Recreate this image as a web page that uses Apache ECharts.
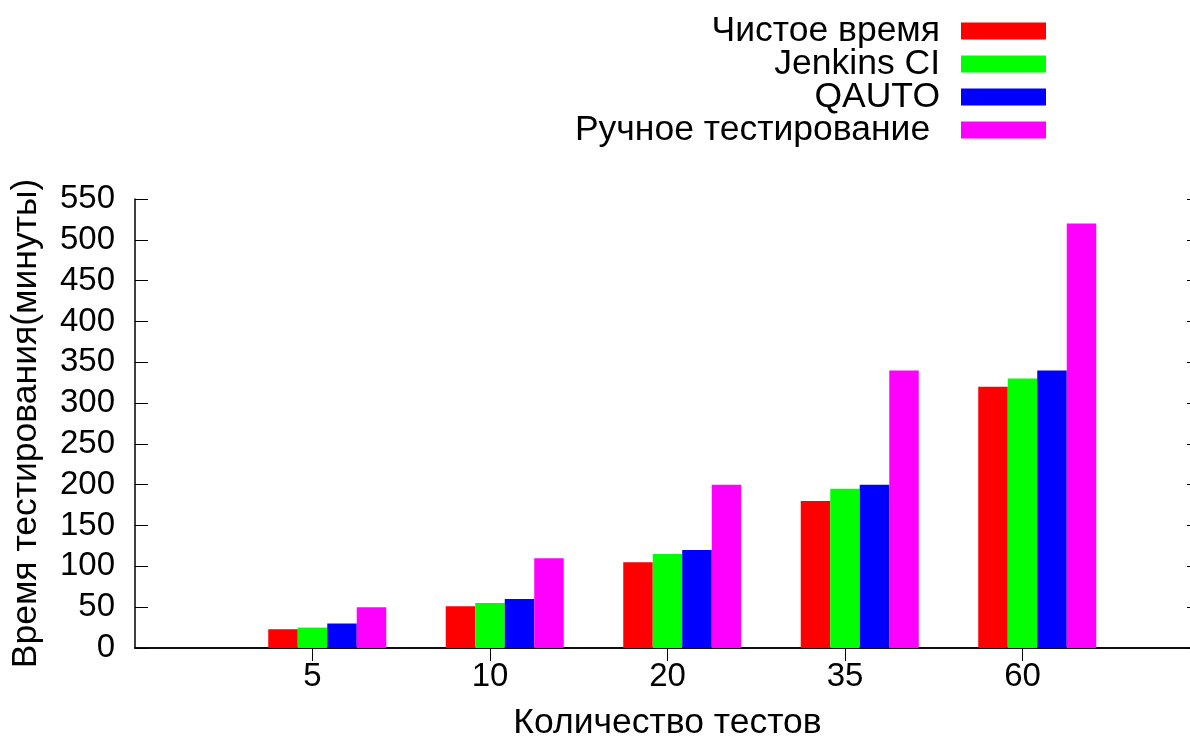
<!DOCTYPE html>
<html>
<head>
<meta charset="utf-8">
<script src="https://cdn.jsdelivr.net/npm/echarts@6/dist/echarts.min.js"></script>
<style>html,body{margin:0;padding:0;background:#fff}#c{width:1190px;height:736px}</style>
</head>
<body>
<div id="c"></div>
<script>
const categories = ['5', '10', '20', '35', '60'];
const seriesNames = ['Чистое время', 'Jenkins CI', 'QAUTO', 'Ручное тестирование '];
const cleanTime = [23, 51, 105, 180, 320];
const jenkinsCI = [25, 55, 115, 195, 330];
const qauto = [30, 60, 120, 200, 340];
const manual = [50, 110, 200, 340, 520];
const yTicks = [0, 50, 100, 150, 200, 250, 300, 350, 400, 450, 500, 550];
const colors = ['#ff0000', '#00ff00', '#0000ff', '#ff00ff'];

const FONT = 'Liberation Sans';
const FS = 33;      // tick labels
const FS_T = 35.5;  // legend and axis names
// axis data: one empty slot each side (gnuplot x range -1..5)
const axisCats = [''].concat(categories, ['']);
const pad = arr => [null].concat(arr, [null]);
const values = [cleanTime, jenkinsCI, qauto, manual];

const L = 135, T = 199, W = 1065, H = 449, BW = 29.5;
const tickShow = (i) => i > 0 && i < axisCats.length - 1;
const lineStyle = {color: '#000', width: 1.5};
const tickStyle = {color: '#000', width: 1};

const chart = echarts.init(document.getElementById('c'), null, {renderer: 'canvas'});
chart.setOption({
  animation: false,
  backgroundColor: '#fff',
  textStyle: {fontFamily: FONT},
  legend: {
    data: seriesNames,
    orient: 'vertical',
    align: 'right',
    right: 139,
    top: 8,
    itemWidth: 85,
    itemHeight: 17,
    itemGap: -3,
    icon: 'rect',
    textStyle: {fontFamily: FONT, fontSize: FS_T, color: '#000', padding: [0, 16, 0, 0]}
  },
  grid: [
    {left: L, top: T, width: W, height: H, outerBoundsMode: 'none', containLabel: false},
    {left: L + BW / 2, top: T, width: W, height: H, outerBoundsMode: 'none', containLabel: false}
  ],
  xAxis: [
    {
      gridIndex: 0, type: 'category', data: axisCats, boundaryGap: false, position: 'bottom',
      name: 'Количество тестов', nameLocation: 'middle', nameGap: 57,
      nameTextStyle: {fontFamily: FONT, fontSize: FS_T, color: '#000'},
      axisLine: {lineStyle: lineStyle},
      axisTick: {show: false},
      axisLabel: {color: '#000', fontFamily: FONT, fontSize: FS, margin: 12, interval: 0}
    },
    {
      gridIndex: 0, type: 'category', data: axisCats, boundaryGap: false, position: 'top',
      axisLine: {lineStyle: lineStyle},
      axisTick: {show: true, inside: true, length: 13, lineStyle: tickStyle, interval: tickShow},
      axisLabel: {show: false}
    },
    {
      gridIndex: 1, type: 'category', data: axisCats, boundaryGap: false, show: false
    }
  ],
  yAxis: [
    {
      gridIndex: 0, type: 'value', min: 0, max: 550, interval: 50, position: 'left',
      name: 'Время тестирования(минуты)', nameLocation: 'middle', nameGap: 91,
      nameTextStyle: {fontFamily: FONT, fontSize: FS_T, color: '#000'},
      axisLine: {show: true, lineStyle: lineStyle},
      axisTick: {show: true, inside: true, length: 13, lineStyle: tickStyle},
      splitLine: {show: false},
      axisLabel: {color: '#000', fontFamily: FONT, fontSize: FS, margin: 20,
        formatter: v => yTicks.indexOf(v) >= 0 ? String(v) : ''}
    },
    {
      gridIndex: 0, type: 'value', min: 0, max: 550, interval: 50, position: 'right',
      axisLine: {show: true, lineStyle: lineStyle},
      axisTick: {show: true, inside: true, length: 13, lineStyle: tickStyle},
      splitLine: {show: false},
      axisLabel: {show: false}
    },
    {
      gridIndex: 1, type: 'value', min: 0, max: 550, show: false, splitLine: {show: false}
    }
  ],
  series: seriesNames.map((name, i) => ({
    name: name,
    type: 'bar',
    xAxisIndex: 2,
    yAxisIndex: 2,
    data: pad(values[i]),
    barWidth: BW,
    barGap: '0%',
    itemStyle: {color: colors[i], borderWidth: 0}
  }))
});
</script>
</body>
</html>
